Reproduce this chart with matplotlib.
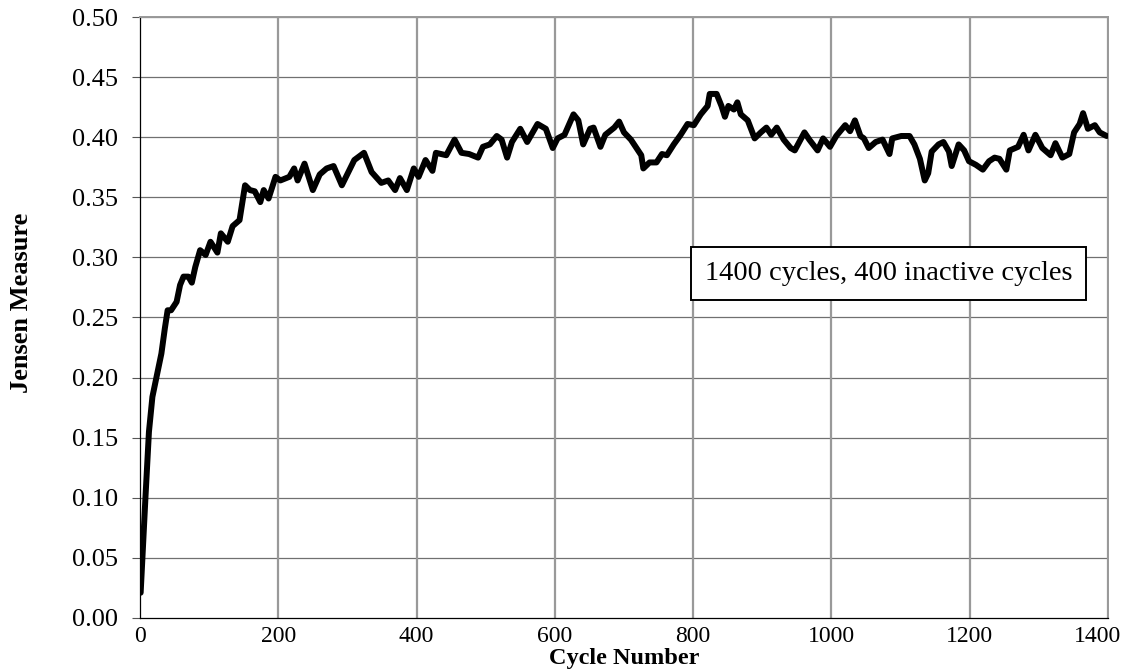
import matplotlib.pyplot as plt
from matplotlib.transforms import ScaledTranslation

# Jensen measure (cycle, value)
cycles = [1, 8, 13, 18, 23, 31, 36, 40, 45, 53, 58, 63, 70, 75, 80, 87, 95,
          102, 112, 117, 127, 134, 144, 152, 159, 166, 174, 179, 186, 196,
          203, 216, 223, 228, 238, 250, 260, 270, 280, 292, 310, 324, 335,
          349, 359, 369, 376, 386, 396, 403, 413, 423, 428, 443, 455, 465,
          476, 489, 496, 506, 516, 523, 531, 538, 550, 560, 575, 587, 597,
          604, 614, 627, 634, 641, 651, 656, 666, 673, 686, 693, 700, 710,
          718, 725, 728, 737, 747, 755, 762, 772, 782, 792, 801, 811, 821,
          824, 834, 841, 846, 851, 859, 864, 869, 879, 889, 898, 906, 913,
          921, 931, 941, 947, 961, 968, 980, 988, 998, 1007, 1020, 1027,
          1034, 1042, 1047, 1054, 1064, 1074, 1084, 1088, 1101, 1113, 1120,
          1128, 1135, 1140, 1145, 1155, 1162, 1170, 1174, 1184, 1192, 1199,
          1209, 1219, 1228, 1236, 1243, 1253, 1258, 1270, 1278, 1285, 1295,
          1305, 1317, 1324, 1334, 1344, 1351, 1359, 1364, 1371, 1381, 1388,
          1398]
jensen = [0.021, 0.101, 0.155, 0.184, 0.198, 0.220, 0.241, 0.256, 0.256,
          0.263, 0.277, 0.284, 0.284, 0.279, 0.292, 0.306, 0.302, 0.313,
          0.304, 0.320, 0.313, 0.326, 0.331, 0.360, 0.356, 0.355, 0.346,
          0.356, 0.349, 0.367, 0.364, 0.367, 0.374, 0.364, 0.378, 0.356,
          0.369, 0.374, 0.376, 0.360, 0.381, 0.387, 0.371, 0.362, 0.364,
          0.356, 0.366, 0.356, 0.374, 0.367, 0.381, 0.372, 0.387, 0.385,
          0.398, 0.387, 0.386, 0.383, 0.392, 0.394, 0.401, 0.398, 0.383,
          0.396, 0.407, 0.396, 0.411, 0.407, 0.391, 0.399, 0.402, 0.419,
          0.414, 0.394, 0.407, 0.408, 0.392, 0.402, 0.408, 0.413, 0.404,
          0.398, 0.391, 0.385, 0.374, 0.379, 0.379, 0.386, 0.385, 0.394,
          0.402, 0.411, 0.410, 0.419, 0.426, 0.436, 0.436, 0.426, 0.417,
          0.426, 0.423, 0.429, 0.419, 0.414, 0.399, 0.404, 0.408, 0.402,
          0.408, 0.398, 0.391, 0.389, 0.404, 0.398, 0.389, 0.399, 0.392,
          0.401, 0.410, 0.405, 0.414, 0.401, 0.399, 0.391, 0.396, 0.398,
          0.386, 0.399, 0.401, 0.401, 0.394, 0.382, 0.364, 0.370, 0.388,
          0.394, 0.396, 0.388, 0.376, 0.394, 0.389, 0.380, 0.377, 0.373,
          0.380, 0.383, 0.382, 0.373, 0.389, 0.392, 0.402, 0.389, 0.402,
          0.391, 0.385, 0.395, 0.383, 0.386, 0.404, 0.411, 0.420, 0.407,
          0.410, 0.404, 0.401]

x_ticks = [0, 200, 400, 600, 800, 1000, 1200, 1400]
y_ticks = [0.00, 0.05, 0.10, 0.15, 0.20, 0.25, 0.30, 0.35, 0.40, 0.45, 0.50]
note = "1400 cycles, 400 inactive cycles"

plt.rcParams['font.family'] = ['Liberation Serif', 'DejaVu Serif']

fig = plt.figure(figsize=(11.26, 6.72), dpi=100)
ax = fig.add_axes([0.1243, 0.0804, 0.8597, 0.8943])

# grid: horizontal thin and dark, vertical wider and lighter
for y in y_ticks[1:]:
    ax.axhline(y, color='#707070', linewidth=0.9, zorder=1)
for x in x_ticks[1:]:
    ax.axvline(x, color='#999999', linewidth=1.6, zorder=1)

ax.plot(cycles, jensen, color='black', linewidth=4.3,
        solid_joinstyle='round', solid_capstyle='round', zorder=3)

ax.set_xlim(0, 1400)
ax.set_ylim(0, 0.50)
ax.set_xticks(x_ticks)
ax.set_yticks(y_ticks)
ax.set_yticklabels([f"{v:.2f}" for v in y_ticks])
ax.tick_params(axis='y', labelsize=19, direction='out', length=5.5,
               width=0.8, color='#555555', pad=10)
ax.tick_params(axis='x', labelsize=17, length=0, pad=6)

# keep the last x label inside the figure edge
last = ax.get_xticklabels()[-1]
last.set_transform(last.get_transform() +
                   ScaledTranslation(-0.10, 0, fig.dpi_scale_trans))

for side in ['top', 'right']:
    ax.spines[side].set_color('#999999')
    ax.spines[side].set_linewidth(1.4)
for side in ['left', 'bottom']:
    ax.spines[side].set_color('black')
    ax.spines[side].set_linewidth(0.9)

ax.set_xlabel("Cycle Number", fontsize=17.5, fontweight='bold')
ax.xaxis.label.set_va('center')
ax.xaxis.set_label_coords(0.5, -0.068)
ax.set_ylabel("Jensen Measure", fontsize=19, fontweight='bold')
ax.yaxis.label.set_va('center')
ax.yaxis.set_label_coords(-0.122, 0.525)

ax.text(1083, 0.2866, note, fontsize=20.5, ha='center', va='center',
        zorder=4,
        bbox=dict(boxstyle='square,pad=0.48', facecolor='white',
                  edgecolor='black', linewidth=1.4))

plt.savefig("out.png", dpi=100)
